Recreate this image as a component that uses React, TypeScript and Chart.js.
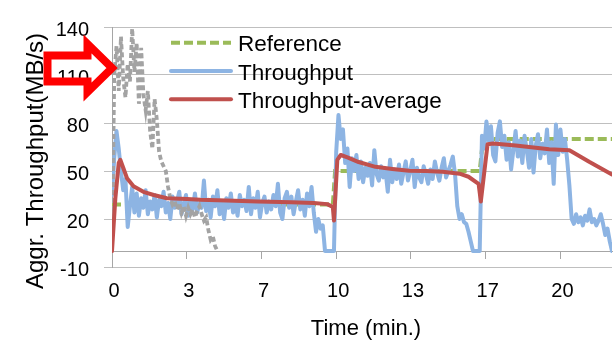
import React, { useEffect, useRef } from 'react';
import { Chart, registerables } from 'chart.js';

Chart.register(...registerables);

// ---------------- data ----------------
const SAMPLE_STEP_MIN = 0.1; // sampling interval of the measured series (minutes)

// Throughput (MB/s), one value every 0.1 min from t = 0 to t = 22.3
const throughputValues = [
  35, 58, 75, 64, 50, 38, 45, 15, 28, 40,
  24, 36, 22, 33, 27, 38, 23, 31, 26, 35,
  21, 32, 28, 37, 24, 30, 20, 34, 27, 31,
  37, 23, 29, 35, 22, 31, 26, 36, 24, 30,
  27, 44, 25, 32, 21, 34, 28, 38, 23, 30,
  20, 33, 27, 36, 24, 31, 22, 35, 28, 32,
  25, 40, 23, 33, 27, 37, 21, 30, 34, 24,
  31, 26, 35, 28, 42, 24, 20, 33, 37, 27,
  34, 23, 31, 38, 26, 32, 22, 36, 28, 40,
  24, 12, 20, 14, 16, 0, 0, 0, 0, 0,
  62, 85, 70, 76, 55, 64, 40, 58, 50, 60,
  45, 56, 43, 52, 47, 55, 41, 63, 48, 44,
  53, 46, 50, 37, 57, 43, 51, 45, 54, 42,
  49, 56, 44, 50, 57, 40, 52, 46, 43, 53,
  48, 42, 51, 45, 56, 49, 44, 52, 58, 46,
  50, 54, 59, 48, 28, 20, 23, 18, 17, 12,
  6, 0, 0, 0, 0, 72, 64, 81, 69, 78,
  60, 56, 74, 81, 65, 72, 57, 68, 51, 63,
  75, 59, 69, 55, 72, 63, 52, 70, 49, 66,
  73, 58, 67, 61, 76, 55, 68, 42, 79, 60,
  76, 62, 70, 57, 41, 20, 17, 23, 18, 21,
  16, 22, 19, 26, 18, 20, 16, 19, 23, 17,
  10, 14, 6, 0,
];

// Uncontrolled throughput (grey dashed, not in legend), every 0.1 min from t = 0
const uncontrolledValues = [
  0, 110, 128, 100, 134, 108, 96, 117, 106, 139,
  112, 130, 92, 127, 98, 88, 100, 75, 64, 95,
  82, 62, 56, 53, 50, 40, 33, 29, 31, 26,
  30, 24, 28, 22, 27, 23, 26, 21, 25, 28,
  23, 19, 21, 13, 7, 9, 3, 0,
];

// Throughput-average
const averageTimes = [
  0, 0.15, 0.3, 0.37, 0.5, 0.67, 0.96, 1.4, 1.86, 2.45, 3.35, 3.94, 5.1, 6.5, 8.0, 9.0, 9.6, 9.85, 9.9,
  10.05, 10.2, 10.5, 11.0, 11.75, 12.5, 13.25, 14.0, 14.75, 15.5, 15.9, 16.35, 16.45,
  16.75, 17.0, 18.0, 19.5, 20.4, 21.3, 22.3,
];
const averageValues = [
  0, 33, 55, 57, 52, 45.5, 40.5, 37, 35, 33, 32.5, 32, 31.5, 31, 30.5, 30, 29.3, 27.5, 19,
  57, 60, 58.5, 55.6, 52.6, 51.3, 50.2, 50, 49.5, 48.3, 46.4, 42, 31,
  66.7, 67.2, 66, 63.6, 63, 55.6, 47.8,
];

// Reference
const referenceTimes = [0, 9.85, 9.95, 16.4, 16.55, 22.3];
const referenceValues = [29, 29, 50, 50, 70, 70];

// axes
const X_MIN = 0;
const X_MAX = 22.3;
const xTickValues = [0, 10 / 3, 20 / 3, 10, 40 / 3, 50 / 3, 20];
const xTickLabels = ['0', '3', '7', '10', '13', '17', '20'];
const Y_MIN = -10;
const Y_MAX = 140;
const Y_STEP = 30;

const legendLabels = ['Reference', 'Throughput', 'Throughput-average'];
const xTitle = 'Time (min.)';
const yTitle = 'Aggr. Throughput(MB/s)';

// ---------------- styles ----------------
const FONT = '"Liberation Sans", Arial, sans-serif';
const GRID = '#BFBFBF';
const AXIS = '#A6A6A6';
const BLUE = '#8DB4E3';
const RED = '#C0504D';
const GREEN = '#9BBB59';
const GREY = '#A3A3A3';

const setTicks = (scale: any) => {
  scale.ticks = xTickValues.map((v) => ({ value: v }));
};

const overlayPlugin = {
  id: 'overlay',
  afterDatasetsDraw(chart: any) {
    const ctx = chart.ctx;
    const rows = [42.7, 71, 99.3];
    ctx.save();
    legendLabels.forEach((label, i) => {
      const ds = chart.data.datasets.find((d: any) => d.label === label);
      if (!ds) return;
      const y = rows[i];
      ctx.beginPath();
      ctx.setLineDash(ds.borderDash || []);
      ctx.lineCap = ds.borderDash ? 'butt' : 'round';
      ctx.strokeStyle = ds.borderColor;
      ctx.lineWidth = ds.borderWidth;
      ctx.moveTo(171, y);
      ctx.lineTo(231, y);
      ctx.stroke();
      ctx.setLineDash([]);
      ctx.fillStyle = '#000';
      ctx.font = `22.5px ${FONT}`;
      ctx.textAlign = 'left';
      ctx.textBaseline = 'alphabetic';
      ctx.fillText(label, 238, y + 8.6);
    });
    ctx.restore();
  },
  afterDraw(chart: any) {
    const ctx = chart.ctx;
    ctx.save();
    // axis titles
    ctx.fillStyle = '#000';
    ctx.font = `22px ${FONT}`;
    ctx.textAlign = 'center';
    ctx.textBaseline = 'alphabetic';
    ctx.fillText(xTitle, 366, 335);
    ctx.save();
    ctx.translate(43.3, 161);
    ctx.rotate(-Math.PI / 2);
    ctx.font = `24px ${FONT}`;
    ctx.fillText(yTitle, 0, 0);
    ctx.restore();
    // red call-out arrow
    ctx.strokeStyle = '#FF0000';
    ctx.lineWidth = 8;
    ctx.lineJoin = 'miter';
    ctx.beginPath();
    ctx.moveTo(47.5, 55.5);
    ctx.lineTo(87.5, 55.5);
    ctx.lineTo(87.5, 44);
    ctx.lineTo(112, 68);
    ctx.lineTo(87.5, 92);
    ctx.lineTo(87.5, 81.5);
    ctx.lineTo(47.5, 81.5);
    ctx.closePath();
    ctx.stroke();
    ctx.restore();
  },
};

export default function App() {
  const canvasRef = useRef<HTMLCanvasElement | null>(null);

  useEffect(() => {
    if (!canvasRef.current) return;
    Chart.defaults.font.family = FONT;
    const chart = new Chart(canvasRef.current, {
      type: 'line',
      data: {
        datasets: [
          {
            label: 'Throughput-average',
            data: averageTimes.map((t, i) => ({ x: t, y: averageValues[i] })),
            borderColor: RED,
            borderWidth: 4,
            borderJoinStyle: 'round',
            borderCapStyle: 'round',
            pointRadius: 0,
            tension: 0,
            order: 0,
            xAxisID: 'x',
            yAxisID: 'y',
          },
          {
            label: 'Uncontrolled',
            data: uncontrolledValues.map((v, i) => ({ x: i * SAMPLE_STEP_MIN, y: v })),
            borderColor: GREY,
            borderWidth: 3.8,
            borderDash: [5, 3],
            pointRadius: 0,
            tension: 0,
            order: 1,
            xAxisID: 'x',
            yAxisID: 'y',
          },
          {
            label: 'Throughput',
            data: throughputValues.map((v, i) => ({ x: i * SAMPLE_STEP_MIN, y: v })),
            borderColor: BLUE,
            borderWidth: 4,
            borderJoinStyle: 'round',
            borderCapStyle: 'round',
            pointRadius: 0,
            tension: 0,
            order: 2,
            xAxisID: 'x',
            yAxisID: 'y',
          },
          {
            label: 'Reference',
            data: referenceTimes.map((t, i) => ({ x: t, y: referenceValues[i] })),
            borderColor: GREEN,
            borderWidth: 4,
            borderDash: [9, 4],
            pointRadius: 0,
            tension: 0,
            order: 3,
            xAxisID: 'x',
            yAxisID: 'y',
          },
        ],
      },
      options: {
        responsive: false,
        animation: false,
        layout: { padding: { left: 0, right: 3, top: 22.5, bottom: 0 } },
        plugins: {
          legend: { display: false },
          tooltip: { enabled: false },
          title: { display: false },
        },
        scales: {
          x: {
            type: 'linear',
            position: 'bottom',
            min: X_MIN,
            max: X_MAX,
            afterBuildTicks: setTicks,
            afterFit: (s: any) => {
              s.height = 78;
            },
            ticks: {
              callback: (_v: any, i: number) => xTickLabels[i],
              font: { size: 20 },
              color: '#000',
              padding: 12,
              labelOffset: 2,
              maxRotation: 0,
              autoSkip: false,
            },
            grid: { display: false, drawTicks: false },
            border: { display: false },
          },
          x2: {
            axis: 'x',
            type: 'linear',
            position: { y: 0 },
            min: X_MIN,
            max: X_MAX,
            afterBuildTicks: setTicks,
            ticks: { display: false },
            grid: {
              display: true,
              drawOnChartArea: false,
              drawTicks: true,
              tickLength: 7,
              color: AXIS,
            },
            border: { display: true, color: AXIS, width: 1 },
          },
          y: {
            type: 'linear',
            position: 'left',
            min: Y_MIN,
            max: Y_MAX,
            afterFit: (s: any) => {
              s.width = 112;
            },
            ticks: {
              stepSize: Y_STEP,
              font: { size: 20 },
              color: '#000',
              padding: 15,
              labelOffset: 3.5,
            },
            grid: { color: GRID, drawTicks: true, tickLength: 8 },
            border: { display: true, color: AXIS },
          },
        },
      } as any,
      plugins: [overlayPlugin],
    });
    return () => chart.destroy();
  }, []);

  return (
    <div style={{ position: 'fixed', left: 0, top: 0, width: 615, height: 345, background: '#fff' }}>
      <canvas ref={canvasRef} width={615} height={345} style={{ display: 'block' }} />
    </div>
  );
}
